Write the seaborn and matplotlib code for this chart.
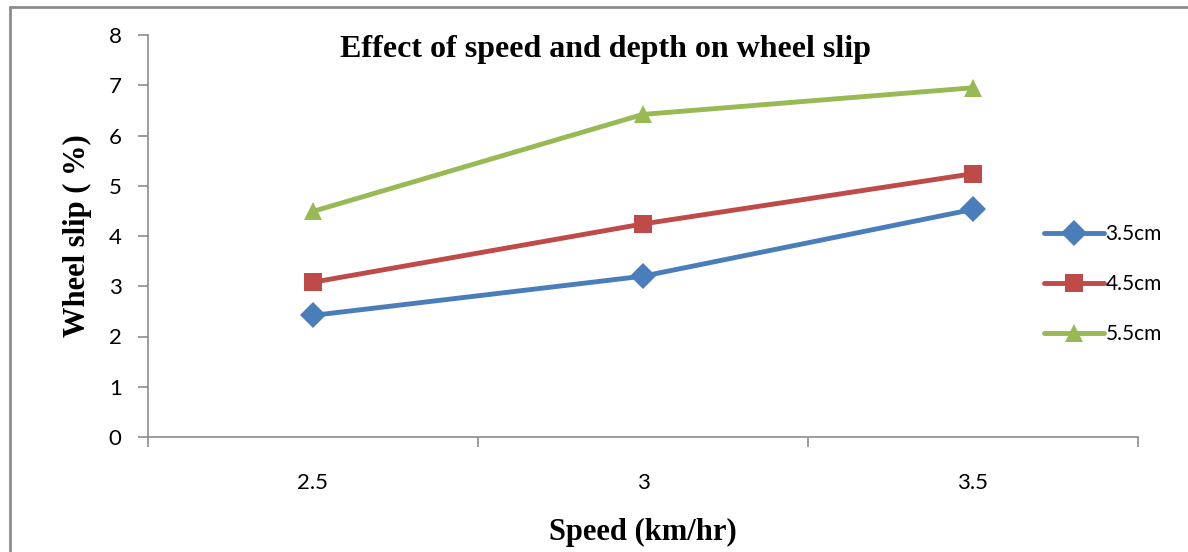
import matplotlib
matplotlib.use("Agg")
import matplotlib.pyplot as plt
from matplotlib.lines import Line2D
import seaborn as sns
import pandas as pd

speeds = ["2.5", "3", "3.5"]
series_names = ["3.5cm", "4.5cm", "5.5cm"]
slip_35 = [2.42, 3.20, 4.53]
slip_45 = [3.08, 4.24, 5.24]
slip_55 = [4.49, 6.42, 6.95]
yticks = [0, 1, 2, 3, 4, 5, 6, 7, 8]

colors = ["#4A7EBB", "#BE4B48", "#98B954"]
markers = ["D", "s", "^"]

rows = []
for name, vals in zip(series_names, [slip_35, slip_45, slip_55]):
    for i, (s, v) in enumerate(zip(speeds, vals)):
        rows.append({"pos": i, "speed": s, "slip": v, "depth": name})
df = pd.DataFrame(rows)

sns.set_theme(style="white")
plt.rcParams['font.family'] = ['Lato', 'DejaVu Sans']
plt.rcParams['text.color'] = 'black'
plt.rcParams['axes.labelcolor'] = 'black'
plt.rcParams['xtick.color'] = 'black'
plt.rcParams['ytick.color'] = 'black'

fig = plt.figure(figsize=(11.88, 5.52), dpi=100)
ax = fig.add_axes([148/1188, 1-437/552, (1138-148)/1188, (437-35)/552])

sns.lineplot(data=df, x="pos", y="slip", hue="depth", style="depth",
             palette=colors, markers=markers, dashes=False, linewidth=3.5,
             markersize=13, markeredgewidth=0, ax=ax, legend=True)

ax.set_xlim(-0.5, 2.5)
ax.set_ylim(0, 8)
ax.set_yticks(yticks)
ax.set_yticklabels([str(t) for t in yticks], fontsize=16)
ax.set_xticks([0, 1, 2])
ax.set_xticklabels(speeds, fontsize=16)
ax.set_xticks([-0.5, 0.5, 1.5, 2.5], minor=True)
ax.tick_params(axis="x", which="major", length=0, pad=26, labelcolor="black")
ax.tick_params(axis="x", which="minor", length=7, width=1.2, color="#8c8c8c", direction="out", bottom=True)
ax.tick_params(axis="y", which="major", length=7, width=1.2, color="#8c8c8c", direction="out", left=True, pad=12, labelcolor="black")

for sp in ["top", "right"]:
    ax.spines[sp].set_visible(False)
for sp in ["left", "bottom"]:
    ax.spines[sp].set_color("#8c8c8c")
    ax.spines[sp].set_linewidth(1.2)

ax.set_xlabel("Speed (km/hr)", fontsize=22, fontweight="bold",
              family=["Liberation Serif"], labelpad=18, color="black")
ax.set_ylabel("Wheel slip ( %)", fontsize=22, fontweight="bold",
              family=["Liberation Serif"], labelpad=12, color="black")
fig.text(605/1188, 1-50/552, "Effect of speed and depth on wheel slip",
         ha="center", va="center", fontsize=23, fontweight="bold",
         family=["Liberation Serif"], color="black")

leg = ax.legend(loc="center left", bbox_to_anchor=(0.886, 0.38), frameon=False,
                fontsize=15, handlelength=2.9, handletextpad=0.05, labelspacing=1.45)
for t in leg.get_texts():
    t.set_color("black")

# outer chart border (top and left visible)
fig.add_artist(Line2D([10/1188, 1], [1-7/552, 1-7/552], transform=fig.transFigure, color="#8c8c8c", lw=2))
fig.add_artist(Line2D([10/1188, 10/1188], [0, 1-7/552], transform=fig.transFigure, color="#8c8c8c", lw=2))

fig.savefig("out.png", dpi=100)
